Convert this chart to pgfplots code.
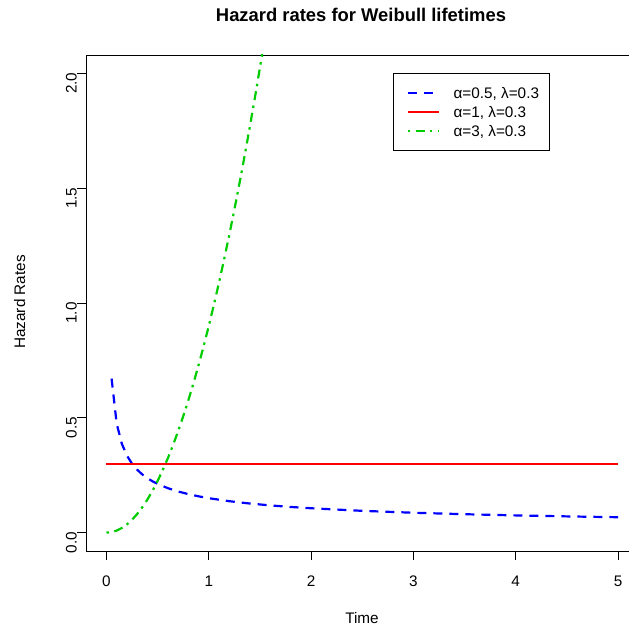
\documentclass[border=0pt]{standalone}
\usepackage{pgfplots}
\pgfplotsset{compat=1.18}
\usepackage{fontspec}
\setmainfont{Liberation Sans}
\definecolor{rblue}{RGB}{0,0,255}
\definecolor{rred}{RGB}{255,0,0}
\definecolor{rgreen}{RGB}{0,205,0}
\newcommand{\fs}{\fontsize{15.3bp}{18bp}\selectfont}
\begin{document}
\begin{tikzpicture}
\useasboundingbox (0,0) rectangle (629bp,628bp);
\begin{axis}[
  at={(86bp,77bp)}, anchor=south west,
  scale only axis, width=552.5bp, height=496bp,
  xmin=-0.2, xmax=5.2, ymin=-0.08, ymax=2.08,
  xtick={0,1,2,3,4,5}, ytick={0,0.5,1,1.5,2},
  xticklabels={0,1,2,3,4,5},
  yticklabels={0.0,0.5,1.0,1.5,2.0},
  tick align=outside, xtick pos=left, ytick pos=left,
  major tick length=9bp,
  every tick/.style={black, line width=0.8bp},
  axis line style={black, line width=0.8bp},
  /pgf/number format/assume math mode=true,
  tick label style={font=\fs},
  xticklabel style={anchor=north, inner sep=0pt, yshift=-16bp},
  yticklabel style={rotate=90, anchor=south, inner sep=0pt, xshift=-10bp},
  clip=true,
  legend cell align=left,
  legend style={at={(rel axis cs:0.5557,0.9637)}, anchor=north west,
    draw=black, line width=0.8bp, font=\fs,
    inner xsep=0bp, inner ysep=10bp, row sep=0bp, column sep=14bp,
    nodes={inner sep=0pt, text height=15bp, text depth=4bp}},
  legend image code/.code={\path (0bp,0bp); \draw[#1, line width=2.2bp] (13bp,0bp) -- (44bp,0bp);},
]
\addplot[rblue, line width=2.2bp, dash pattern=on 9bp off 7bp] coordinates {
(0.05,0.6708) (0.10,0.4743) (0.15,0.3873) (0.20,0.3354) (0.25,0.3000)
(0.30,0.2739) (0.35,0.2535) (0.40,0.2372) (0.45,0.2236) (0.50,0.2121)
(0.60,0.1936) (0.70,0.1793) (0.80,0.1677) (0.90,0.1581) (1.00,0.1500)
(1.20,0.1369) (1.40,0.1268) (1.60,0.1186) (1.80,0.1118) (2.00,0.1061)
(2.50,0.0949) (3.00,0.0866) (3.50,0.0802) (4.00,0.0750) (4.50,0.0707)
(5.00,0.0671)};
\addlegendentry{α=0.5, λ=0.3\rule{10bp}{0pt}}
\addplot[rred, line width=2.2bp] coordinates {(0,0.3) (5,0.3)};
\addlegendentry{α=1, λ=0.3}
\addplot[rgreen, line width=2.2bp, dash pattern=on 2.5bp off 5.5bp on 9bp off 5bp] coordinates {
(0,0) (0.05,0.00225) (0.10,0.009) (0.15,0.02025) (0.20,0.036) (0.25,0.05625)
(0.30,0.081) (0.35,0.11025) (0.40,0.144) (0.45,0.18225) (0.50,0.225)
(0.55,0.27225) (0.60,0.324) (0.65,0.38025) (0.70,0.441) (0.75,0.50625)
(0.80,0.576) (0.85,0.65025) (0.90,0.729) (0.95,0.81225) (1.00,0.9)
(1.05,0.99225) (1.10,1.089) (1.15,1.19025) (1.20,1.296) (1.25,1.40625)
(1.30,1.521) (1.35,1.64025) (1.40,1.764) (1.45,1.89225) (1.50,2.025)
(1.55,2.16225)};
\addlegendentry{α=3, λ=0.3}
\end{axis}
\node[anchor=base, font=\bfseries\fontsize{18.4bp}{22bp}\selectfont] at (361bp,606bp) {Hazard rates for Weibull lifetimes};
\node[anchor=base, font=\fs] at (362bp,5bp) {Time};
\node[anchor=base, rotate=90, font=\fs] at (25bp,326bp) {Hazard Rates};
\end{tikzpicture}
\end{document}
